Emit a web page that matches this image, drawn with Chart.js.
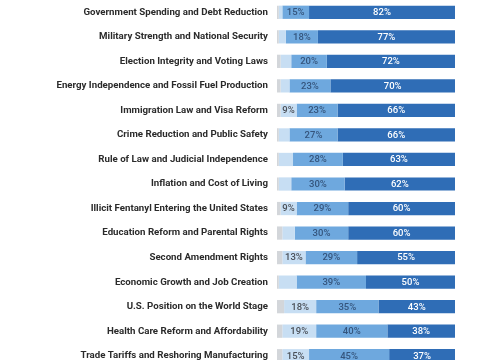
<!DOCTYPE html>
<html>
<head>
<meta charset="utf-8">
<script src="https://cdn.jsdelivr.net/npm/chart.js@4/dist/chart.umd.min.js"></script>
<style>
  html, body { margin: 0; padding: 0; background: #fff; overflow: hidden; }
  #issuesChart { position: absolute; left: 0; top: 0; }
</style>
</head>
<body>
<canvas id="issuesChart" width="480" height="368"></canvas>
<script>
// issue priorities, share of respondents (%)
const categories = [
  "Government Spending and Debt Reduction",
  "Military Strength and National Security",
  "Election Integrity and Voting Laws",
  "Energy Independence and Fossil Fuel Production",
  "Immigration Law and Visa Reform",
  "Crime Reduction and Public Safety",
  "Rule of Law and Judicial Independence",
  "Inflation and Cost of Living",
  "Illicit Fentanyl Entering the United States",
  "Education Reform and Parental Rights",
  "Second Amendment Rights",
  "Economic Growth and Job Creation",
  "U.S. Position on the World Stage",
  "Health Care Reform and Affordability",
  "Trade Tariffs and Reshoring Manufacturing"
];
const notSure       = [1, 1, 2, 2, 2, 1, 1, 1, 2, 3, 3, 1, 4, 3, 3];
const somewhat      = [2, 4, 6, 5, 9, 6, 8, 7, 9, 7, 13, 10, 18, 19, 15];
const important     = [15, 18, 20, 23, 23, 27, 28, 30, 29, 30, 29, 39, 35, 40, 45];
const veryImportant = [82, 77, 72, 70, 66, 66, 63, 62, 60, 60, 55, 50, 43, 38, 37];
// only some of the light segments carry a label in the source
const somewhatLabels = ["", "", "", "", "9%", "", "", "", "9%", "", "13%", "", "18%", "19%", "15%"];

const segmentLabels = {
  afterDatasetsDraw(chart) {
    const ctx = chart.ctx;
    ctx.save();
    ctx.font = "500 9.5px Roboto";
    ctx.textAlign = "center";
    ctx.textBaseline = "middle";
    chart.data.datasets.forEach((ds, di) => {
      if (!ds.labelColor) return;
      chart.getDatasetMeta(di).data.forEach((bar, i) => {
        const txt = ds.textFor(i);
        if (!txt) return;
        ctx.fillStyle = ds.labelColor;
        ctx.fillText(txt, (bar.x + bar.base) / 2, bar.y + 0.5);
      });
    });
    ctx.restore();
  }
};

new Chart(document.getElementById("issuesChart"), {
  type: "bar",
  data: {
    labels: categories,
    datasets: [
      { label: "Not sure", data: notSure, backgroundColor: "#d3d6da" },
      { label: "Somewhat important", data: somewhat, backgroundColor: "#c7def3",
        labelColor: "#4a4f57", textFor: i => somewhatLabels[i] },
      { label: "Important", data: important, backgroundColor: "#6ea8de",
        labelColor: "#35557d", textFor: i => important[i] + "%" },
      { label: "Very important", data: veryImportant, backgroundColor: "#2f6db6",
        labelColor: "#ffffff", textFor: i => veryImportant[i] + "%" }
    ]
  },
  options: {
    indexAxis: "y",
    responsive: false,
    animation: false,
    layout: { padding: { left: 0, right: 25, top: 0, bottom: 0 } },
    datasets: { bar: { barPercentage: 0.54, categoryPercentage: 1 } },
    scales: {
      x: { stacked: true, min: 0, max: 100, display: false },
      y: {
        stacked: true,
        grid: { display: false },
        border: { display: false },
        afterFit: s => {
          s.width = 277;
          s.paddingTop = 0;
          s.paddingBottom = 0;
        },
        ticks: {
          padding: 1,
          color: "#2b2b2b",
          font: { family: "Roboto", size: 9.7, weight: "bold" }
        }
      }
    },
    plugins: {
      legend: { display: false },
      tooltip: { enabled: false }
    }
  },
  plugins: [segmentLabels]
});
</script>
</body>
</html>
